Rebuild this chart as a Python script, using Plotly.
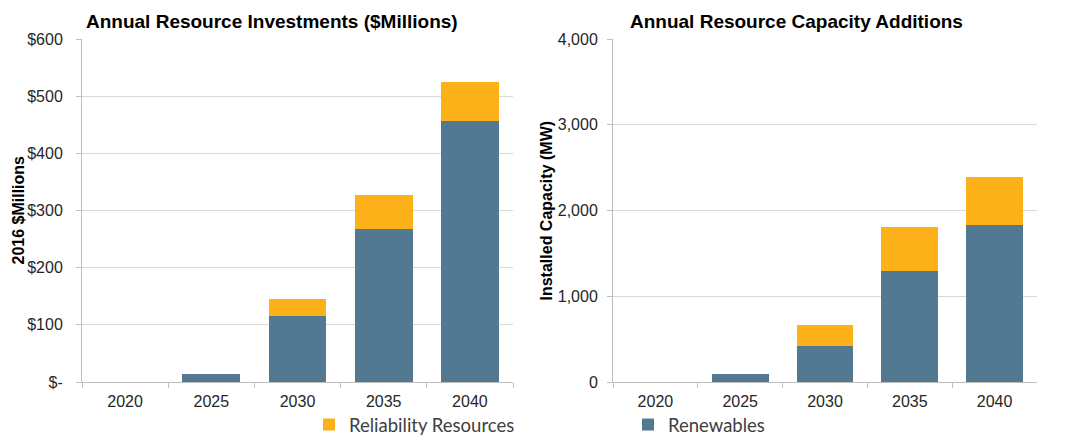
import plotly.graph_objects as go
from plotly.subplots import make_subplots

years = ['2020', '2025', '2030', '2035', '2040']

# investimentos ($ milhoes, 2016)
invest_renewables = [0, 14, 115, 267, 457]
invest_reliability = [0, 0, 30, 60, 67]

# capacidade instalada (MW)
cap_renewables = [0, 88, 418, 1295, 1830]
cap_reliability = [0, 0, 242, 515, 556]

invest_ticks = [0, 100, 200, 300, 400, 500, 600]
invest_labels = ['$-', '$100', '$200', '$300', '$400', '$500', '$600']

BLUE = '#527991'
ORANGE = '#FBB117'
FONT = 'Liberation Sans, Arial, sans-serif'

fig = make_subplots(rows=1, cols=2)

fig.add_trace(go.Bar(x=years, y=invest_renewables, marker_color=BLUE, name='Renewables',
                     showlegend=False), row=1, col=1)
fig.add_trace(go.Bar(x=years, y=invest_reliability, marker_color=ORANGE, name='Reliability Resources',
                     legend='legend'), row=1, col=1)
fig.add_trace(go.Bar(x=years, y=cap_renewables, marker_color=BLUE, name='Renewables',
                     legend='legend2'), row=1, col=2)
fig.add_trace(go.Bar(x=years, y=cap_reliability, marker_color=ORANGE, name='Reliability Resources',
                     showlegend=False), row=1, col=2)

fig.update_traces(marker_line_width=0)

axis_common = dict(showline=True, linecolor='#bfbfbf', linewidth=1,
                   ticks='outside', ticklen=5, tickcolor='#bfbfbf',
                   tickfont=dict(family=FONT, size=16, color='#262626'))

fig.update_xaxes(**axis_common, tickson='boundaries', showgrid=False, ticklabelstandoff=5)
fig.update_yaxes(**axis_common, showgrid=True, gridcolor='#d9d9d9', gridwidth=1, zeroline=False)

legend_font = dict(family='Lato, sans-serif', size=18.5, color='#404040')
title_font = dict(family=FONT, size=19, color='black')
ytitle_font = dict(family=FONT, size=16, color='black')

fig.update_layout(
    barmode='stack',
    bargap=0.33,
    width=1073, height=444,
    margin=dict(l=0, r=0, t=39, b=59),
    plot_bgcolor='white', paper_bgcolor='white',
    xaxis=dict(domain=[82 / 1073, 513 / 1073]),
    xaxis2=dict(domain=[613 / 1073, 1037 / 1073]),
    yaxis=dict(range=[0, 600], tickvals=invest_ticks, ticktext=invest_labels, ticklabelstandoff=10),
    yaxis2=dict(range=[0, 4000], dtick=1000, tickformat=',', ticklabelstandoff=6),
    legend=dict(x=309 / 1073, y=-0.127, xanchor='left', yanchor='middle',
                font=legend_font, bgcolor='rgba(0,0,0,0)'),
    legend2=dict(x=628 / 1073, y=-0.127, xanchor='left', yanchor='middle',
                 font=legend_font, bgcolor='rgba(0,0,0,0)'),
    annotations=[
        dict(text='<b>Annual Resource Investments ($Millions)</b>', x=272 / 1073, y=1, xref='paper',
             yref='paper', xanchor='center', yanchor='bottom', yshift=5, showarrow=False,
             font=title_font),
        dict(text='<b>Annual Resource Capacity Additions</b>', x=796 / 1073, y=1, xref='paper',
             yref='paper', xanchor='center', yanchor='bottom', yshift=5, showarrow=False,
             font=title_font),
        dict(text='<b>2016 $Millions</b>', x=18 / 1073, y=0.5, xref='paper', yref='paper',
             xanchor='center', yanchor='middle', textangle=-90, showarrow=False, font=ytitle_font),
        dict(text='<b>Installed Capacity (MW)</b>', x=546 / 1073, y=0.5, xref='paper', yref='paper',
             xanchor='center', yanchor='middle', textangle=-90, showarrow=False, font=ytitle_font),
    ],
)

fig.write_html('out.html', config={'displayModeBar': False},
               post_script="document.body.style.margin='0';")
